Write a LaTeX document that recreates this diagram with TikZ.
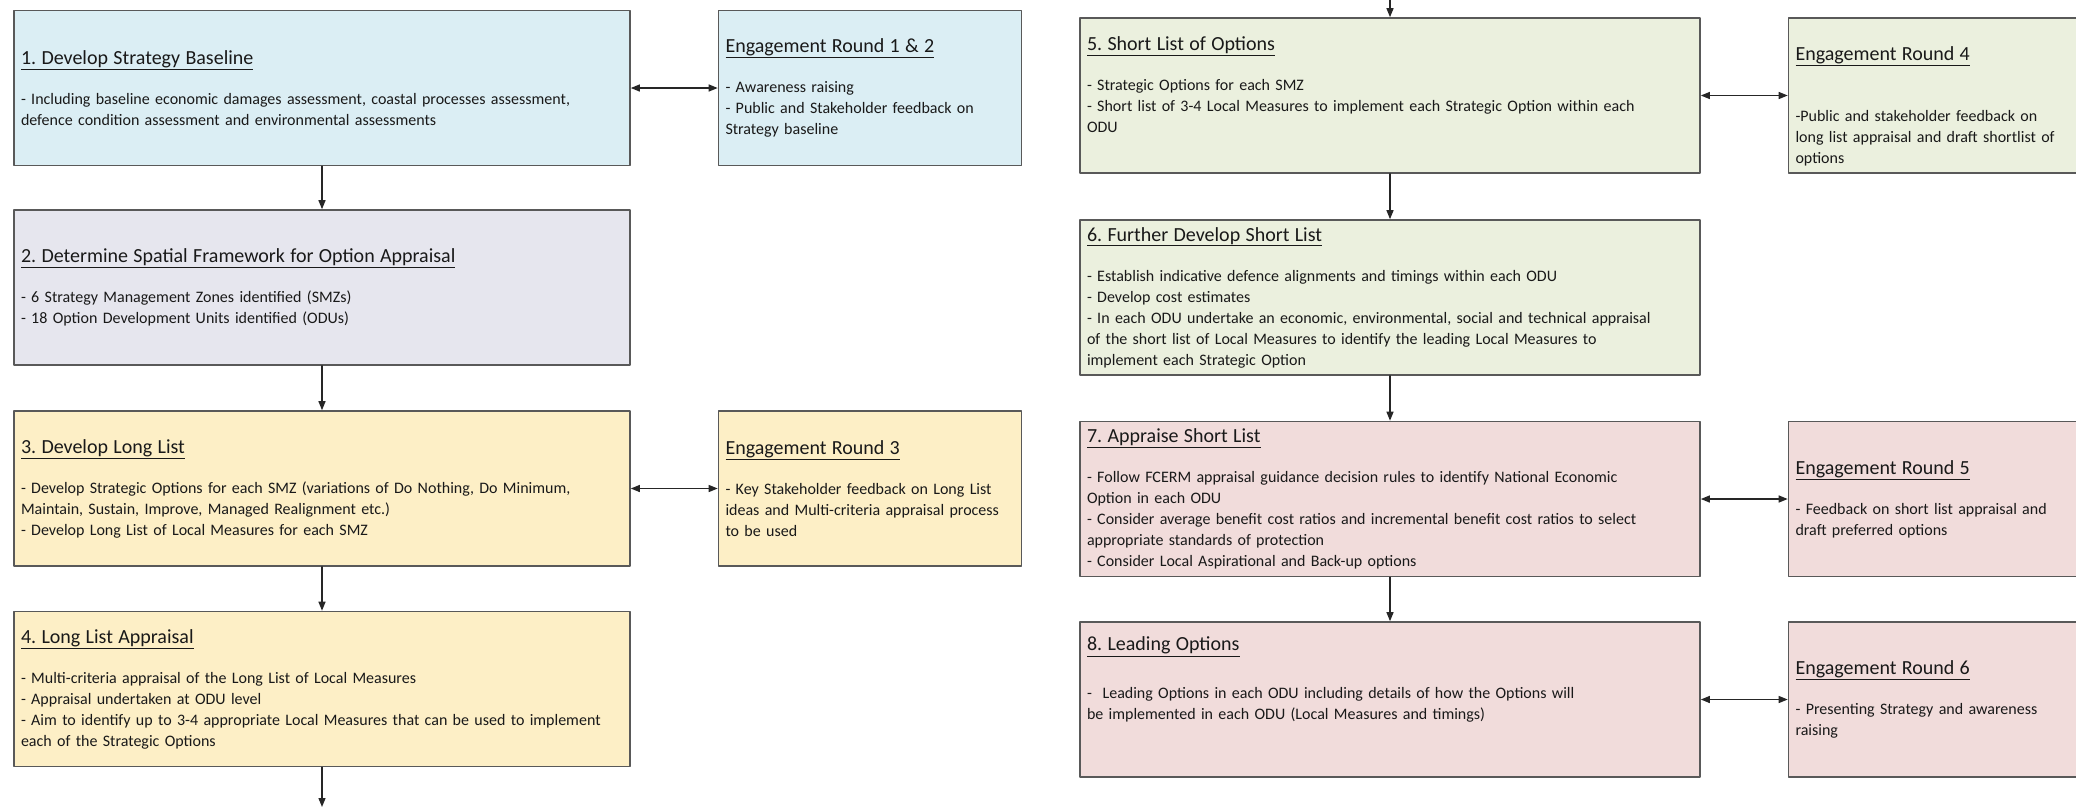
\documentclass[tikz,border=0pt]{standalone}
\usepackage{fontspec}
\setmainfont{Carlito}
\frenchspacing
\usetikzlibrary{arrows.meta}
\definecolor{blueish}{HTML}{DBEEF4}
\definecolor{lilac}{HTML}{E6E6EE}
\definecolor{sand}{HTML}{FDEFC6}
\definecolor{sage}{HTML}{EBF0DE}
\definecolor{rose}{HTML}{F1DCDB}
\definecolor{edge}{HTML}{595959}
\newcommand{\boxtitle}[1]{{\fontsize{20}{21}\selectfont\underline{#1}}}
\tikzset{
    stage/.style = {draw=edge, line width=1.6pt, rectangle, inner xsep=7pt, inner ysep=0pt,
        text width=#1, minimum height=155pt, align=left,
        font=\fontsize{16}{21}\selectfont, text=black!90},
    stage/.default = 602pt,
    engage/.style = {stage=289pt},
    flow/.style = {draw=black!85, line width=1.3pt, -{Triangle[length=9pt,width=7pt]}},
    both/.style = {draw=black!85, line width=1.3pt, {Triangle[length=9pt,width=7pt]}-{Triangle[length=9pt,width=7pt]}}
}

\begin{document}
\begin{tikzpicture}[x=1pt, y=-1pt, line cap=round, line join=round]
\useasboundingbox (0,0) rectangle (2076,807);
\clip (0,0) rectangle (2076,807);

% left column
\node[stage, fill=blueish] (s1) at (322,88) {\boxtitle{1. Develop Strategy Baseline}\\[19pt]
- Including baseline economic damages assessment, coastal processes assessment,\\
defence condition assessment and environmental assessments};
\node[engage, fill=blueish] (e12) at (870,88) {\boxtitle{Engagement Round 1 \& 2}\\[19pt]
- Awareness raising\\
- Public and Stakeholder feedback on\\
Strategy baseline};

\node[stage, fill=lilac] (s2) at (322,287.5) {\boxtitle{2. Determine Spatial Framework for Option Appraisal}\\[19pt]
- 6 Strategy Management Zones identified (SMZs)\\
- 18 Option Development Units identified (ODUs)};

\node[stage, fill=sand] (s3) at (322,488.5) {\boxtitle{3. Develop Long List}\\[19pt]
- Develop Strategic Options for each SMZ (variations of Do Nothing, Do Minimum,\\
Maintain, Sustain, Improve, Managed Realignment etc.)\\
- Develop Long List of Local Measures for each SMZ};
\node[engage, fill=sand] (e3) at (870,488.5) {\boxtitle{Engagement Round 3}\\[19pt]
- Key Stakeholder feedback on Long List\\
ideas and Multi-criteria appraisal process\\
to be used};

\node[stage, fill=sand] (s4) at (322,689) {\boxtitle{4. Long List Appraisal}\\[19pt]
- Multi-criteria appraisal of the Long List of Local Measures\\
- Appraisal undertaken at ODU level\\
- Aim to identify up to 3-4 appropriate Local Measures that can be used to implement\\
each of the Strategic Options};
\coordinate (bot4) at (322,807);

% right column
\coordinate (top5) at (1390,0);
\node[stage=606pt, fill=sage] (s5) at (1390,95.5) {\boxtitle{5. Short List of Options}\\[19pt]
- Strategic Options for each SMZ\\
- Short list of 3-4 Local Measures to implement each Strategic Option within each\\
ODU\\ ~};
\node[engage, fill=sage] (e4) at (1940,95.5) {~\\[15pt]\boxtitle{Engagement Round 4}\\[40pt]
-Public and stakeholder feedback on\\
long list appraisal and draft shortlist of\\
options};

\node[stage=606pt, fill=sage] (s6) at (1390,297.5) {\boxtitle{6. Further Develop Short List}\\[19pt]
- Establish indicative defence alignments and timings within each ODU\\
- Develop cost estimates\\
- In each ODU undertake an economic, environmental, social and technical appraisal\\
of the short list of Local Measures to identify the leading Local Measures to\\
implement each Strategic Option};

\node[stage=606pt, fill=rose] (s7) at (1390,499) {\boxtitle{7. Appraise Short List}\\[19pt]
- Follow FCERM appraisal guidance decision rules to identify National Economic\\
Option in each ODU\\
- Consider average benefit cost ratios and incremental benefit cost ratios to select\\
appropriate standards of protection\\
- Consider Local Aspirational and Back-up options};
\node[engage, fill=rose] (e5) at (1940,499) {\boxtitle{Engagement Round 5}\\[19pt]
- Feedback on short list appraisal and\\
draft preferred options};

\node[stage=606pt, fill=rose] (s8) at (1390,699.5) {\boxtitle{8. Leading Options}\\[27pt]
- \ Leading Options in each ODU including details of how the Options will\\
be implemented in each ODU (Local Measures and timings)\\ ~\\ ~};
\node[engage, fill=rose] (e6) at (1940,699.5) {\boxtitle{Engagement Round 6}\\[19pt]
- Presenting Strategy and awareness\\
raising};

% connectors
\draw[flow] (s1) -- (s2);
\draw[flow] (s2) -- (s3);
\draw[flow] (s3) -- (s4);
\draw[flow] (s4) -- (bot4);
\draw[flow] (top5) -- (s5);
\draw[flow] (s5) -- (s6);
\draw[flow] (s6) -- (s7);
\draw[flow] (s7) -- (s8);
\draw[both] (s1) -- (e12);
\draw[both] (s3) -- (e3);
\draw[both] (s5) -- (e4);
\draw[both] (s7) -- (e5);
\draw[both] (s8) -- (e6);
\end{tikzpicture}
\end{document}
